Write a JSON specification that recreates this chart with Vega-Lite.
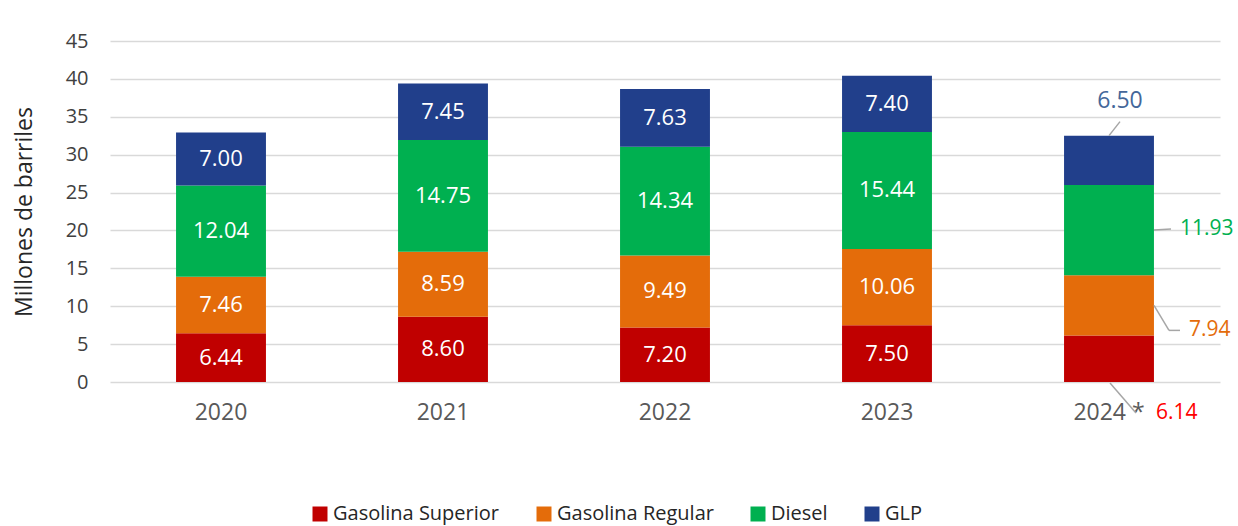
{
  "$schema": "https://vega.github.io/schema/vega-lite/v6.json",
  "width": 1110,
  "height": 341,
  "autosize": {"type": "none"},
  "padding": {"left": 110, "top": 41, "right": 18, "bottom": 144},
  "background": "white",
  "config": {
    "font": "Open Sans",
    "view": {"stroke": null},
    "axisY": {
      "tickCount": 9,
      "labelOverlap": false,
      "titleFontSize": 23,
      "titleFontWeight": "normal",
      "titleColor": "#262626",
      "titlePadding": 29,
      "labelFontSize": 20,
      "labelColor": "#404040",
      "labelPadding": 22,
      "domain": false,
      "ticks": false,
      "gridColor": "#d9d9d9",
      "gridWidth": 1.5
    }
  },
  "data": {
    "values": [
      {"year": "2020", "series": "Gasolina Superior", "order": 1, "value": 6.44},
      {"year": "2020", "series": "Gasolina Regular", "order": 2, "value": 7.46},
      {"year": "2020", "series": "Diesel", "order": 3, "value": 12.04},
      {"year": "2020", "series": "GLP", "order": 4, "value": 7.00},
      {"year": "2021", "series": "Gasolina Superior", "order": 1, "value": 8.60},
      {"year": "2021", "series": "Gasolina Regular", "order": 2, "value": 8.59},
      {"year": "2021", "series": "Diesel", "order": 3, "value": 14.75},
      {"year": "2021", "series": "GLP", "order": 4, "value": 7.45},
      {"year": "2022", "series": "Gasolina Superior", "order": 1, "value": 7.20},
      {"year": "2022", "series": "Gasolina Regular", "order": 2, "value": 9.49},
      {"year": "2022", "series": "Diesel", "order": 3, "value": 14.34},
      {"year": "2022", "series": "GLP", "order": 4, "value": 7.63},
      {"year": "2023", "series": "Gasolina Superior", "order": 1, "value": 7.50},
      {"year": "2023", "series": "Gasolina Regular", "order": 2, "value": 10.06},
      {"year": "2023", "series": "Diesel", "order": 3, "value": 15.44},
      {"year": "2023", "series": "GLP", "order": 4, "value": 7.40},
      {"year": "2024 *", "series": "Gasolina Superior", "order": 1, "value": 6.14},
      {"year": "2024 *", "series": "Gasolina Regular", "order": 2, "value": 7.94},
      {"year": "2024 *", "series": "Diesel", "order": 3, "value": 11.93},
      {"year": "2024 *", "series": "GLP", "order": 4, "value": 6.50}
    ]
  },
  "transform": [
    {"stack": "value", "groupby": ["year"], "sort": [{"field": "order"}], "as": ["y0", "y1"]},
    {"calculate": "(datum.y0 + datum.y1) / 2", "as": "mid"}
  ],
  "encoding": {
    "x": {
      "field": "year",
      "type": "nominal",
      "sort": null,
      "scale": {"paddingInner": 0.595, "paddingOuter": 0.2975},
      "axis": {
        "title": null,
        "labelAngle": 0,
        "labelFontSize": 23,
        "labelColor": "#595959",
        "labelPadding": 19,
        "domain": false,
        "ticks": false,
        "grid": false
      }
    }
  },
  "layer": [
    {
      "mark": {"type": "bar"},
      "encoding": {
        "y": {
          "field": "y0",
          "type": "quantitative",
          "scale": {"domain": [0, 45], "nice": false},
          "axis": {"title": "Millones de barriles"}
        },
        "y2": {"field": "y1"},
        "color": {
          "field": "series",
          "type": "nominal",
          "scale": {
            "domain": ["Gasolina Superior", "Gasolina Regular", "Diesel", "GLP"],
            "range": ["#C00000", "#E46C0A", "#00B050", "#213F8B"]
          },
          "legend": {
            "title": null,
            "orient": "none",
            "direction": "horizontal",
            "legendX": 200,
            "legendY": 463,
            "symbolType": "square",
            "symbolSize": 225,
            "symbolStrokeWidth": 0,
            "symbolOpacity": 1,
            "labelFontSize": 20,
            "labelLimit": 0,
            "labelColor": "#262626",
            "labelOffset": 3,
            "columnPadding": 34
          }
        }
      }
    },
    {
      "transform": [{"filter": "datum.year != '2024 *'"}],
      "mark": {"type": "text", "color": "white", "fontSize": 22, "align": "center", "baseline": "middle"},
      "encoding": {
        "y": {"field": "mid", "type": "quantitative"},
        "text": {"field": "value", "type": "quantitative", "format": ".2f"}
      }
    },
    {
      "transform": [{"filter": "datum.year == '2024 *' && datum.series == 'GLP'"}],
      "mark": {"type": "text", "color": "#44679A", "fontSize": 23, "align": "center", "baseline": "middle", "dx": 11, "dy": -35},
      "encoding": {
        "y": {"field": "y1", "type": "quantitative"},
        "text": {"field": "value", "type": "quantitative", "format": ".2f"}
      }
    },
    {
      "transform": [{"filter": "datum.year == '2024 *' && datum.series == 'Diesel'"}],
      "mark": {"type": "text", "color": "#00B050", "fontSize": 21, "align": "left", "baseline": "middle", "dx": 71, "dy": -1},
      "encoding": {
        "y": {"field": "mid", "type": "quantitative"},
        "text": {"field": "value", "type": "quantitative", "format": ".2f"}
      }
    },
    {
      "transform": [{"filter": "datum.year == '2024 *' && datum.series == 'Gasolina Regular'"}],
      "mark": {"type": "text", "color": "#E46C0A", "fontSize": 21, "align": "left", "baseline": "middle", "dx": 80, "dy": 25},
      "encoding": {
        "y": {"field": "mid", "type": "quantitative"},
        "text": {"field": "value", "type": "quantitative", "format": ".2f"}
      }
    },
    {
      "transform": [{"filter": "datum.year == '2024 *' && datum.series == 'Gasolina Superior'"}],
      "mark": {"type": "text", "color": "#FF0000", "fontSize": 21, "align": "left", "baseline": "middle", "dx": 47, "dy": 31},
      "encoding": {
        "y": {"field": "y0", "type": "quantitative"},
        "text": {"field": "value", "type": "quantitative", "format": ".2f"}
      }
    },
    {
      "transform": [{"filter": "datum.year == '2024 *' && datum.series == 'GLP'"}],
      "mark": {"type": "rule", "color": "#A6A6A6", "strokeWidth": 1.5, "x2Offset": 11, "y2Offset": -14},
      "encoding": {
        "x2": {"field": "year"},
        "y": {"field": "y1", "type": "quantitative"},
        "y2": {"field": "y1"}
      }
    },
    {
      "transform": [{"filter": "datum.year == '2024 *' && datum.series == 'Diesel'"}],
      "mark": {"type": "rule", "color": "#A6A6A6", "strokeWidth": 1.5, "xOffset": 45, "x2Offset": 62, "y2Offset": -1},
      "encoding": {
        "x2": {"field": "year"},
        "y": {"field": "mid", "type": "quantitative"},
        "y2": {"field": "mid"}
      }
    },
    {
      "transform": [{"filter": "datum.year == '2024 *' && datum.series == 'Gasolina Regular'"}],
      "mark": {"type": "rule", "color": "#A6A6A6", "strokeWidth": 1.5, "xOffset": 45, "x2Offset": 60, "y2Offset": 25},
      "encoding": {
        "x2": {"field": "year"},
        "y": {"field": "mid", "type": "quantitative"},
        "y2": {"field": "mid"}
      }
    },
    {
      "transform": [{"filter": "datum.year == '2024 *' && datum.series == 'Gasolina Regular'"}],
      "mark": {"type": "rule", "color": "#A6A6A6", "strokeWidth": 1.5, "xOffset": 60, "yOffset": 25, "x2Offset": 71, "y2Offset": 25},
      "encoding": {
        "x2": {"field": "year"},
        "y": {"field": "mid", "type": "quantitative"},
        "y2": {"field": "mid"}
      }
    },
    {
      "transform": [{"filter": "datum.year == '2024 *' && datum.series == 'Gasolina Superior'"}],
      "mark": {"type": "rule", "color": "#A6A6A6", "strokeWidth": 1.5, "xOffset": 1, "yOffset": 1, "x2Offset": 27, "y2Offset": 31},
      "encoding": {
        "x2": {"field": "year"},
        "y": {"field": "y0", "type": "quantitative"},
        "y2": {"field": "y0"}
      }
    }
  ]
}
